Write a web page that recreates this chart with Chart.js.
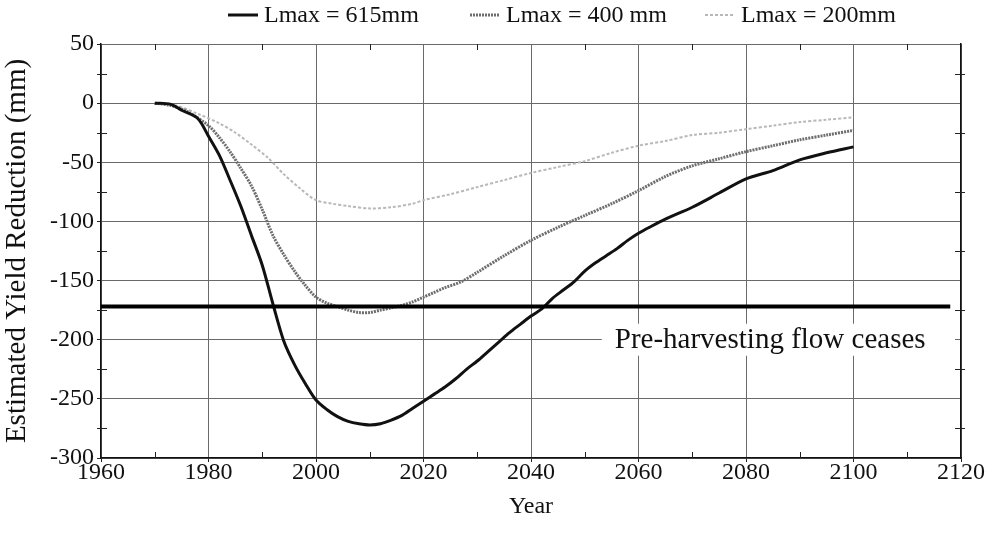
<!DOCTYPE html>
<html>
<head>
<meta charset="utf-8">
<script src="https://cdn.jsdelivr.net/npm/chart.js@4/dist/chart.umd.min.js"></script>
<style>
  html, body { margin: 0; padding: 0; background: #fff; }
  #wrap { width: 993px; height: 533px; }
</style>
</head>
<body>
<div id="wrap"><canvas id="yieldChart"></canvas></div>
<script>
// ── data ──
const years615 = [1970, 1973, 1975, 1978, 1980, 1982, 1984, 1986, 1988, 1990, 1992, 1994, 1996, 1998, 2000, 2002, 2004, 2006, 2008, 2010, 2012, 2014, 2016, 2018, 2020, 2022, 2024, 2026, 2028, 2030, 2032, 2034, 2036, 2038, 2040, 2042, 2044, 2046, 2048, 2050, 2052, 2054, 2056, 2058, 2060, 2062, 2065, 2070, 2075, 2080, 2085, 2090, 2095, 2100];
const yield615 = [0, -1, -6, -13, -28, -44, -65, -87, -112, -137, -170, -201, -221, -237, -251, -259, -265, -269, -271, -272, -271, -268, -264, -258, -252, -246, -240, -233, -225, -218, -210, -202, -194, -187, -180, -174, -165, -158, -151, -142, -135, -129, -123, -116, -110, -105, -98, -88, -76, -64, -57, -48, -42, -37];

const years400 = [1970, 1973, 1976, 1980, 1982, 1984, 1986, 1988, 1990, 1992, 1994, 1996, 1998, 2000, 2002, 2004, 2006, 2008, 2010, 2012, 2014, 2016, 2018, 2020, 2022, 2024, 2027, 2030, 2035, 2040, 2045, 2050, 2055, 2060, 2065, 2070, 2075, 2080, 2085, 2090, 2095, 2100];
const yield400 = [0, -2, -7, -19, -29, -41, -55, -70, -90, -112, -128, -142, -154, -164, -169, -172, -175, -177, -177, -175, -173, -171, -168, -164, -160, -156, -151, -143, -129, -116, -105, -95, -85, -74, -62, -53, -47, -41, -36, -31, -27, -23];

const years200 = [1970, 1974, 1978, 1982, 1985, 1988, 1991, 1994, 1997, 2000, 2003, 2006, 2010, 2014, 2018, 2020, 2025, 2030, 2035, 2040, 2045, 2050, 2055, 2060, 2065, 2070, 2075, 2080, 2085, 2090, 2095, 2100];
const yield200 = [0, -2, -9, -17, -25, -35, -46, -60, -72, -82, -85, -87, -89, -88, -85, -82, -77, -71, -65, -59, -54, -49, -42, -36, -32, -27, -25, -22, -19, -16, -14, -12];

const ceaseYears = [1960, 2118];
const ceaseLevel = -172;
const ceaseText = 'Pre-harvesting flow ceases';

const seriesLabels = ['Lmax = 615mm', 'Lmax = 400 mm', 'Lmax = 200mm'];
const xMin = 1960, xMax = 2120, xStep = 20;
const yMin = -300, yMax = 50, yStep = 50;

const SERIF = '"Liberation Serif", "DejaVu Serif", serif';
const pts = (xs, ys) => xs.map((x, i) => ({ x, y: ys[i] }));

// minor tick marks, drawn inward on all four sides
const minorTicks = {
  id: 'minorTicks',
  afterDatasetsDraw(chart) {
    const { ctx, chartArea: a, scales: { x, y } } = chart;
    ctx.save();
    ctx.strokeStyle = '#222';
    ctx.lineWidth = 1;
    ctx.beginPath();
    for (let v = xMin + xStep / 2; v < xMax; v += xStep) {
      const px = Math.round(x.getPixelForValue(v)) + 0.5;
      ctx.moveTo(px, a.bottom); ctx.lineTo(px, a.bottom - 6);
      ctx.moveTo(px, a.top); ctx.lineTo(px, a.top + 6);
    }
    for (let v = yMin + yStep / 2; v < yMax; v += yStep) {
      const py = Math.round(y.getPixelForValue(v)) + 0.5;
      ctx.moveTo(a.left - 4, py); ctx.lineTo(a.left + 6, py);
      ctx.moveTo(a.right + 4, py); ctx.lineTo(a.right - 6, py);
    }
    ctx.stroke();
    ctx.restore();
  }
};

// label under the cease line, with white box interrupting the grid
const ceaseLabel = {
  id: 'ceaseLabel',
  afterDatasetsDraw(chart) {
    const { ctx, chartArea: a, scales: { x, y } } = chart;
    ctx.save();
    ctx.font = '29px ' + SERIF;
    const w = ctx.measureText(ceaseText).width;
    const cx = x.getPixelForValue(2084.5);
    const cy = y.getPixelForValue(-200);
    const left = cx - w / 2 - 13;
    ctx.fillStyle = '#fff';
    ctx.fillRect(left, cy - 16, (a.right - 6) - left, 32);
    ctx.fillStyle = '#111';
    ctx.textAlign = 'center';
    ctx.textBaseline = 'middle';
    ctx.fillText(ceaseText, cx, cy + 1);
    ctx.restore();
  }
};

// legend across the top: short line sample then text
const legendX = [228, 470, 705];
const topLegend = {
  id: 'topLegend',
  afterDraw(chart) {
    const { ctx } = chart;
    const sets = chart.data.datasets.slice(0, 3);
    ctx.save();
    ctx.font = '24px ' + SERIF;
    ctx.textBaseline = 'middle';
    const py = 15;
    sets.forEach((ds, i) => {
      const px = legendX[i];
      ctx.strokeStyle = ds.borderColor;
      ctx.lineWidth = ds.borderWidth;
      ctx.setLineDash(ds.borderDash || []);
      ctx.beginPath(); ctx.moveTo(px, py); ctx.lineTo(px + 30, py); ctx.stroke();
      ctx.setLineDash([]);
      ctx.fillStyle = '#111';
      ctx.fillText(ds.label, px + 36, py + 1);
    });
    ctx.restore();
  }
};

new Chart(document.getElementById('yieldChart'), {
  type: 'scatter',
  data: {
    datasets: [
      { label: seriesLabels[0], data: pts(years615, yield615), showLine: true, borderColor: '#111', borderWidth: 3, pointRadius: 0, tension: 0.3, order: 1 },
      { label: seriesLabels[1], data: pts(years400, yield400), showLine: true, borderColor: '#6e6e6e', borderWidth: 3, borderDash: [2, 1], pointRadius: 0, tension: 0.3, order: 2 },
      { label: seriesLabels[2], data: pts(years200, yield200), showLine: true, borderColor: '#b8b8b8', borderWidth: 2, borderDash: [3, 2], pointRadius: 0, tension: 0.3, order: 3 },
      { label: ceaseText, data: ceaseYears.map(x => ({ x, y: ceaseLevel })), showLine: true, borderColor: '#000', borderWidth: 4, pointRadius: 0, order: 0 }
    ]
  },
  options: {
    responsive: true,
    maintainAspectRatio: false,
    animation: false,
    layout: { padding: { top: 44, right: 32, bottom: 0, left: 0 } },
    plugins: { legend: { display: false }, tooltip: { enabled: false } },
    scales: {
      x: {
        type: 'linear', min: xMin, max: xMax,
        afterFit: s => { s.height = 75; },
        ticks: { stepSize: xStep, color: '#111', font: { family: SERIF, size: 24 }, padding: -4, callback: v => String(v) },
        grid: { color: '#6a6a6a', lineWidth: 1, tickLength: 4, tickColor: '#222' },
        border: { display: true, color: '#111', width: 1.5 },
        title: { display: true, text: 'Year', color: '#111', font: { family: SERIF, size: 24 }, padding: { top: 0, bottom: 12 } }
      },
      y: {
        min: yMin, max: yMax,
        afterFit: s => { s.width = 101; },
        ticks: { stepSize: yStep, color: '#111', font: { family: SERIF, size: 24 }, padding: 3 },
        grid: { color: '#6a6a6a', lineWidth: 1, tickLength: 4, tickColor: '#222' },
        border: { display: true, color: '#111', width: 1.5 },
        title: { display: true, text: 'Estimated Yield Reduction (mm)', color: '#111', font: { family: SERIF, size: 29 }, padding: { top: 0, bottom: 0 } }
      },
      y2: {
        position: 'right', min: yMin, max: yMax,
        afterFit: s => { s.width = 0; },
        ticks: { display: false, stepSize: yStep },
        grid: { display: false },
        border: { display: true, color: '#111', width: 1.5 }
      }
    }
  },
  plugins: [minorTicks, ceaseLabel, topLegend]
});
</script>
</body>
</html>
